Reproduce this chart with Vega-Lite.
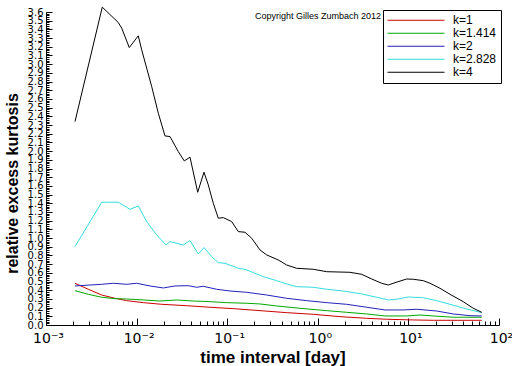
{
  "$schema": "https://vega.github.io/schema/vega-lite/v6.json",
  "autosize": {"type": "none"},
  "padding": {"left": 46, "top": 12, "right": 13, "bottom": 41},
  "width": 453,
  "height": 313,
  "background": "white",
  "config": {"view": {"stroke": null}, "font": "Liberation Sans"},
  "layer": [
    {
      "data": {"values": [
        {"k":"k=1","t":0.002089,"v":0.480},{"k":"k=1","t":0.002931,"v":0.411},{"k":"k=1","t":0.004120,"v":0.345},{"k":"k=1","t":0.005777,"v":0.307},{"k":"k=1","t":0.007776,"v":0.280},{"k":"k=1","t":0.01186,"v":0.257},{"k":"k=1","t":0.01892,"v":0.238},{"k":"k=1","t":0.03573,"v":0.222},{"k":"k=1","t":0.06459,"v":0.204},{"k":"k=1","t":0.1168,"v":0.188},{"k":"k=1","t":0.2301,"v":0.165},{"k":"k=1","t":0.4536,"v":0.142},{"k":"k=1","t":0.8920,"v":0.123},{"k":"k=1","t":1.758,"v":0.096},{"k":"k=1","t":3.465,"v":0.077},{"k":"k=1","t":5.760,"v":0.066},{"k":"k=1","t":11.33,"v":0.058},{"k":"k=1","t":18.83,"v":0.054},{"k":"k=1","t":37.11,"v":0.054},{"k":"k=1","t":64.44,"v":0.054},
        {"k":"k=1.414","t":0.002089,"v":0.395},{"k":"k=1.414","t":0.002931,"v":0.353},{"k":"k=1.414","t":0.004120,"v":0.319},{"k":"k=1.414","t":0.005777,"v":0.303},{"k":"k=1.414","t":0.007776,"v":0.299},{"k":"k=1.414","t":0.01186,"v":0.288},{"k":"k=1.414","t":0.01813,"v":0.276},{"k":"k=1.414","t":0.02770,"v":0.288},{"k":"k=1.414","t":0.04225,"v":0.276},{"k":"k=1.414","t":0.06459,"v":0.268},{"k":"k=1.414","t":0.09874,"v":0.257},{"k":"k=1.414","t":0.1641,"v":0.250},{"k":"k=1.414","t":0.2301,"v":0.242},{"k":"k=1.414","t":0.3518,"v":0.219},{"k":"k=1.414","t":0.6362,"v":0.192},{"k":"k=1.414","t":1.254,"v":0.165},{"k":"k=1.414","t":2.084,"v":0.146},{"k":"k=1.414","t":3.465,"v":0.127},{"k":"k=1.414","t":5.515,"v":0.104},{"k":"k=1.414","t":9.576,"v":0.104},{"k":"k=1.414","t":13.43,"v":0.115},{"k":"k=1.414","t":18.83,"v":0.104},{"k":"k=1.414","t":31.31,"v":0.089},{"k":"k=1.414","t":64.44,"v":0.089},
        {"k":"k=2","t":0.002089,"v":0.449},{"k":"k=2","t":0.004120,"v":0.468},{"k":"k=2","t":0.005532,"v":0.480},{"k":"k=2","t":0.007776,"v":0.468},{"k":"k=2","t":0.01003,"v":0.480},{"k":"k=2","t":0.01405,"v":0.449},{"k":"k=2","t":0.01971,"v":0.426},{"k":"k=2","t":0.02652,"v":0.449},{"k":"k=2","t":0.03721,"v":0.452},{"k":"k=2","t":0.04607,"v":0.434},{"k":"k=2","t":0.05447,"v":0.445},{"k":"k=2","t":0.07655,"v":0.411},{"k":"k=2","t":0.1074,"v":0.391},{"k":"k=2","t":0.1641,"v":0.376},{"k":"k=2","t":0.2729,"v":0.345},{"k":"k=2","t":0.4536,"v":0.307},{"k":"k=2","t":0.7543,"v":0.280},{"k":"k=2","t":1.254,"v":0.257},{"k":"k=2","t":2.084,"v":0.238},{"k":"k=2","t":3.465,"v":0.204},{"k":"k=2","t":5.515,"v":0.173},{"k":"k=2","t":8.785,"v":0.173},{"k":"k=2","t":12.35,"v":0.181},{"k":"k=2","t":20.53,"v":0.161},{"k":"k=2","t":31.31,"v":0.127},{"k":"k=2","t":47.86,"v":0.107},{"k":"k=2","t":64.44,"v":0.104},
        {"k":"k=2.828","t":0.002089,"v":0.901},{"k":"k=2.828","t":0.004120,"v":1.412},{"k":"k=2.828","t":0.006281,"v":1.412},{"k":"k=2.828","t":0.008456,"v":1.331},{"k":"k=2.828","t":0.01044,"v":1.369},{"k":"k=2.828","t":0.01292,"v":1.189},{"k":"k=2.828","t":0.01667,"v":1.036},{"k":"k=2.828","t":0.02111,"v":0.921},{"k":"k=2.828","t":0.02337,"v":0.959},{"k":"k=2.828","t":0.03277,"v":0.921},{"k":"k=2.828","t":0.03886,"v":0.970},{"k":"k=2.828","t":0.04797,"v":0.817},{"k":"k=2.828","t":0.05545,"v":0.890},{"k":"k=2.828","t":0.06743,"v":0.786},{"k":"k=2.828","t":0.07973,"v":0.717},{"k":"k=2.828","t":0.09456,"v":0.710},{"k":"k=2.828","t":0.1326,"v":0.652},{"k":"k=2.828","t":0.1572,"v":0.641},{"k":"k=2.828","t":0.1941,"v":0.602},{"k":"k=2.828","t":0.2503,"v":0.556},{"k":"k=2.828","t":0.3518,"v":0.510},{"k":"k=2.828","t":0.4536,"v":0.472},{"k":"k=2.828","t":0.5851,"v":0.441},{"k":"k=2.828","t":0.8920,"v":0.434},{"k":"k=2.828","t":1.254,"v":0.411},{"k":"k=2.828","t":1.912,"v":0.391},{"k":"k=2.828","t":3.051,"v":0.357},{"k":"k=2.828","t":4.469,"v":0.319},{"k":"k=2.828","t":5.999,"v":0.288},{"k":"k=2.828","t":7.429,"v":0.296},{"k":"k=2.828","t":9.975,"v":0.322},{"k":"k=2.828","t":14.60,"v":0.314},{"k":"k=2.828","t":20.53,"v":0.280},{"k":"k=2.828","t":28.79,"v":0.238},{"k":"k=2.828","t":44.00,"v":0.184},{"k":"k=2.828","t":64.44,"v":0.142},
        {"k":"k=4","t":0.002089,"v":2.339},{"k":"k=4","t":0.004180,"v":3.656},{"k":"k=4","t":0.006281,"v":3.479},{"k":"k=4","t":0.006849,"v":3.414},{"k":"k=4","t":0.008305,"v":3.191},{"k":"k=4","t":0.01044,"v":3.326},{"k":"k=4","t":0.01138,"v":3.165},{"k":"k=4","t":0.01468,"v":2.742},{"k":"k=4","t":0.01736,"v":2.436},{"k":"k=4","t":0.02058,"v":2.175},{"k":"k=4","t":0.02337,"v":2.167},{"k":"k=4","t":0.02885,"v":1.994},{"k":"k=4","t":0.03361,"v":1.887},{"k":"k=4","t":0.03886,"v":1.930},{"k":"k=4","t":0.04725,"v":1.527},{"k":"k=4","t":0.05545,"v":1.757},{"k":"k=4","t":0.06185,"v":1.611},{"k":"k=4","t":0.07024,"v":1.400},{"k":"k=4","t":0.07973,"v":1.228},{"k":"k=4","t":0.09058,"v":1.235},{"k":"k=4","t":0.1121,"v":1.189},{"k":"k=4","t":0.1326,"v":1.074},{"k":"k=4","t":0.1572,"v":1.067},{"k":"k=4","t":0.1864,"v":0.998},{"k":"k=4","t":0.2301,"v":0.863},{"k":"k=4","t":0.2729,"v":0.806},{"k":"k=4","t":0.3664,"v":0.748},{"k":"k=4","t":0.4536,"v":0.690},{"k":"k=4","t":0.5851,"v":0.652},{"k":"k=4","t":0.8920,"v":0.641},{"k":"k=4","t":1.254,"v":0.613},{"k":"k=4","t":2.267,"v":0.606},{"k":"k=4","t":3.051,"v":0.583},{"k":"k=4","t":3.935,"v":0.529},{"k":"k=4","t":5.074,"v":0.480},{"k":"k=4","t":5.999,"v":0.460},{"k":"k=4","t":7.114,"v":0.487},{"k":"k=4","t":9.576,"v":0.529},{"k":"k=4","t":11.33,"v":0.526},{"k":"k=4","t":14.60,"v":0.510},{"k":"k=4","t":17.32,"v":0.480},{"k":"k=4","t":22.33,"v":0.422},{"k":"k=4","t":28.79,"v":0.353},{"k":"k=4","t":40.36,"v":0.268},{"k":"k=4","t":52.04,"v":0.192},{"k":"k=4","t":64.44,"v":0.146}
      ]},
      "mark": {"type": "line", "strokeWidth": 1, "clip": false},
      "encoding": {
        "x": {
          "field": "t", "type": "quantitative",
          "scale": {"type": "log", "domain": [0.001, 100], "nice": false},
          "axis": {
            "title": "time interval [day]",
            "titleFont": "Liberation Sans", "titleFontSize": 17, "titleFontWeight": "bold", "titleColor": "black", "titlePadding": 1,
            "values": [0.001,0.002,0.003,0.004,0.005,0.006,0.007,0.008,0.009,0.01,0.02,0.03,0.04,0.05,0.06,0.07,0.08,0.09,0.1,0.2,0.3,0.4,0.5,0.6,0.7,0.8,0.9,1,2,3,4,5,6,7,8,9,10,20,30,40,50,60,70,80,90,100],
            "labelExpr": "abs(log(datum.value)/LN10 - round(log(datum.value)/LN10)) > 0.001 ? '' : round(log(datum.value)/LN10) == -3 ? '10⁻³' : round(log(datum.value)/LN10) == -2 ? '10⁻²' : round(log(datum.value)/LN10) == -1 ? '10⁻¹' : round(log(datum.value)/LN10) == 0 ? '10⁰' : round(log(datum.value)/LN10) == 1 ? '10¹' : '10²'",
            "labelFont": "DejaVu Sans", "labelFontSize": 14, "labelColor": "black",
            "labelAlign": "center", "labelOffset": 2, "labelBaseline": "top",
            "labelPadding": 13, "labelOverlap": false, "labelFlush": false, "labelBound": false,
            "tickSize": {"condition": {"test": "abs(log(datum.value)/LN10 - round(log(datum.value)/LN10)) < 0.001", "value": -7}, "value": -4},
            "tickColor": "black", "domainColor": "black", "grid": false
          }
        },
        "y": {
          "field": "v", "type": "quantitative",
          "scale": {"domain": [0, 3.6], "nice": false, "zero": true},
          "axis": {
            "title": "relative excess kurtosis",
            "titleFont": "Liberation Sans", "titleFontSize": 16, "titleFontWeight": "bold", "titleColor": "black", "titlePadding": 7,
            "titleY": 171,
            "tickCount": 180,
            "labelExpr": "abs(datum.value*10 - round(datum.value*10)) < 0.01 ? format(datum.value, '.1f') : ''",
            "labelFont": "DejaVu Sans", "labelFontSize": 10, "labelColor": "black",
            "labelPadding": 9, "labelOverlap": false, "labelFlush": false, "labelBound": false,
            "tickSize": {"condition": {"test": "abs(datum.value*10 - round(datum.value*10)) < 0.01", "value": -6}, "value": -3},
            "tickColor": "black", "domainColor": "black", "grid": false
          }
        },
        "color": {
          "field": "k", "type": "nominal",
          "scale": {"domain": ["k=1","k=1.414","k=2","k=2.828","k=4"], "range": ["#cc0000","#00aa00","#2222bb","#33dddd","#000000"]},
          "legend": {
            "title": null, "orient": "none", "legendX": 337, "legendY": -2,
            "symbolType": "stroke", "symbolSize": 3249, "symbolStrokeWidth": 1,
            "clipHeight": 12.5, "rowPadding": 0,
            "labelFont": "Liberation Sans", "labelFontSize": 12, "labelColor": "black", "labelOffset": 8,
            "strokeColor": "black", "fillColor": "white", "padding": 4
          }
        }
      }
    },
    {
      "data": {"values": [{"t": 4.98, "v": 3.556, "label": "Copyright Gilles Zumbach 2012"}]},
      "mark": {"type": "text", "align": "right", "baseline": "middle", "fontSize": 9, "font": "Liberation Sans", "color": "black"},
      "encoding": {
        "x": {"field": "t", "type": "quantitative"},
        "y": {"field": "v", "type": "quantitative"},
        "text": {"field": "label"}
      }
    }
  ]
}
